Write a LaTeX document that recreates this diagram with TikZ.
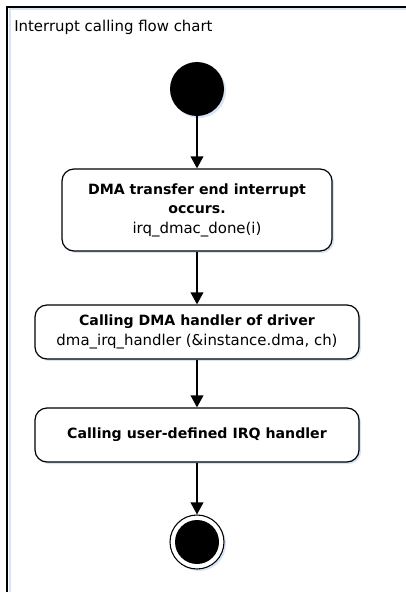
\documentclass[tikz,border=0pt]{standalone}
\usepackage{fontspec}
\setmainfont{DejaVu Sans}
\usetikzlibrary{positioning,arrows.meta,shadows}
\definecolor{shadowblue}{RGB}{214,228,245}
\newcommand{\hd}[1]{{\fontsize{10.6}{14.6}\selectfont\bfseries #1}}

\begin{document}
\begin{tikzpicture}[
  x=0.75pt, y=-0.75pt,
  node distance=80pt,
  font=\fontsize{11.2}{14.6}\selectfont,
  blueshadow/.style = {
    drop shadow={shadow xshift=1.5pt, shadow yshift=-1.5pt,
      fill=shadowblue, opacity=1}
  },
  block/.style = {
    draw,
    shape=rectangle,
    rounded corners=9pt,
    line width=0.9pt,
    fill=white,
    minimum width=243pt,
    minimum height=40.5pt,
    align=center,
    blueshadow
  },
  startdot/.style = {
    shape=circle,
    fill=black,
    inner sep=0pt,
    minimum size=40.5pt,
    blueshadow
  },
  enddot/.style = {
    shape=circle,
    draw,
    line width=0.8pt,
    fill=white,
    inner sep=0pt,
    minimum size=40.5pt,
    blueshadow
  },
  flow/.style = {
    -{Triangle[width=9.5pt,length=9pt]},
    line width=1.1pt
  },
]
  \useasboundingbox (0,0) rectangle (406,592);

  % frame
  \draw[shadowblue, line width=1.5pt] (406,9.5) -- (9.5,9.5) -- (9.5,592);
  \draw[line width=1.5pt] (406,7) -- (7,7) -- (7,592);
  \node (title)[anchor=west, inner sep=0pt] at (14,27) {Interrupt calling flow chart};

  \node (start)[startdot] at (197,89) {};
  \node (dmaend)[
    below of=start,
    block,
    yshift=-10.75pt,
    minimum width=202.5pt,
    minimum height=61.5pt
  ] {\hd{DMA transfer end interrupt}\\\hd{occurs.}\\irq\_dmac\_done(i)};
  \node (driver)[
    below of=dmaend,
    block,
    yshift=-11.5pt
  ] {\hd{Calling DMA handler of driver}\\dma\_irq\_handler (\&instance.dma, ch)};
  \node (userirq)[
    below of=driver,
    block,
    yshift=2.75pt
  ] {\hd{Calling user-defined IRQ handler}};
  \node (finish)[
    below of=userirq,
    enddot,
    yshift=-0.25pt
  ] {};
  \node (finishdot)[
    shape=circle,
    fill=black,
    inner sep=0pt,
    minimum size=33pt
  ] at (finish) {};

  \draw[flow] (start) -- (dmaend);
  \draw[flow] (dmaend) -- (driver);
  \draw[flow] (driver) -- (userirq);
  \draw[flow] (userirq) -- (finish);
\end{tikzpicture}
\end{document}
